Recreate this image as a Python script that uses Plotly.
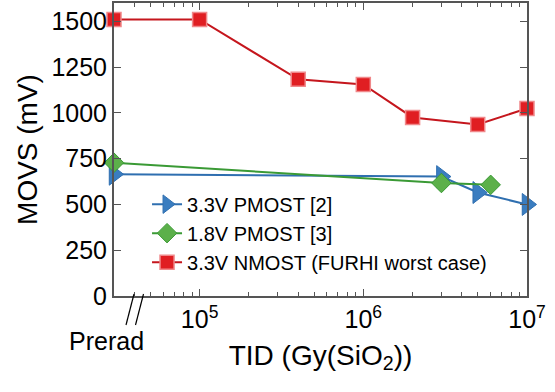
import plotly.graph_objects as go

# Data (x in Gy(SiO2); the first point of each series is "Prerad", placed at 3e4)
prerad_x = 3e4
pmos33_x = [prerad_x, 3e6, 5e6, 1e7]
pmos33_y = [665, 652, 565, 500]
pmos18_x = [prerad_x, 3e6, 6e6]
pmos18_y = [728, 617, 607]
nmos33_x = [prerad_x, 1e5, 4e5, 1e6, 2e6, 5e6, 1e7]
nmos33_y = [1510, 1510, 1183, 1155, 975, 937, 1024]

names = ["3.3V PMOST [2]", "1.8V PMOST [3]", "3.3V NMOST (FURHI worst case)"]
y_ticks = [0, 250, 500, 750, 1000, 1250, 1500]
x_ticks = [1e5, 1e6, 1e7]
x_ticktext = ["10<sup>5</sup>", "10<sup>6</sup>", "10<sup>7</sup>"]

FONT = "Liberation Sans"
fig = go.Figure()
fig.add_trace(go.Scatter(
    x=pmos33_x, y=pmos33_y, name=names[0], mode="lines+markers", cliponaxis=False,
    line=dict(color="#2f6fb0", width=2),
    marker=dict(symbol="triangle-right", size=19, color="#3a7dc0",
                line=dict(color="#2f6fb0", width=1))))
fig.add_trace(go.Scatter(
    x=pmos18_x, y=pmos18_y, name=names[1], mode="lines+markers", cliponaxis=False,
    line=dict(color="#3a9a35", width=2),
    marker=dict(symbol="diamond", size=15, color="#5cb04a",
                line=dict(color="#3a9a35", width=1))))
fig.add_trace(go.Scatter(
    x=nmos33_x, y=nmos33_y, name=names[2], mode="lines+markers", cliponaxis=False,
    line=dict(color="#c5161d", width=2),
    marker=dict(symbol="square", size=14, color="#e01e22",
                line=dict(color="#f0888a", width=1.5))))

L, R, T, B = 114, 28, 3, 96
W, H = 555, 392
fig.update_layout(
    width=W, height=H,
    margin=dict(l=L, r=R, t=T, b=B, autoexpand=False),
    paper_bgcolor="white", plot_bgcolor="white",
    font=dict(family=FONT, color="black"),
    showlegend=True,
    legend=dict(x=0.08, y=0.38, xanchor="left", yanchor="top",
                bgcolor="rgba(0,0,0,0)", font=dict(size=20, family=FONT),
                tracegroupgap=0, itemwidth=30),
    xaxis=dict(type="log", range=[4.477, 7.0], tickvals=x_ticks, ticktext=x_ticktext,
               automargin=False,
               ticks="inside", ticklen=7, tickcolor="#555",
               minor=dict(ticks="inside", ticklen=4, tickcolor="#555", dtick="D1", showgrid=False),
               showline=True, linecolor="#555", linewidth=2, mirror="ticks",
               showgrid=False, zeroline=False,
               tickfont=dict(size=25, family=FONT),
               title=dict(text="TID (Gy(SiO<sub>2</sub>))", font=dict(size=28, family=FONT), standoff=13)),
    yaxis=dict(range=[0, 1600], tickvals=y_ticks, automargin=False,
               ticks="inside", ticklen=7, tickcolor="#555",
               showline=True, linecolor="#555", linewidth=2, mirror="ticks",
               showgrid=False, zeroline=False,
               tickfont=dict(size=25, family=FONT),
               title=dict(text="MOVS (mV)", font=dict(size=28, family=FONT), standoff=6)),
)

pw = W - L - R
ph = H - T - B
def px(xp):
    return (xp - L) / pw
def py(yp):
    return (H - B - yp) / ph

# axis break marks and Prerad label
for x0 in (126, 135.5):
    fig.add_shape(type="line", xref="paper", yref="paper",
                  x0=px(x0), y0=py(325), x1=px(x0 + 8), y1=py(294),
                  line=dict(color="black", width=1.2))
fig.add_annotation(text="Prerad", xref="paper", yref="paper",
                   x=px(106), y=py(341), xanchor="center", yanchor="middle",
                   showarrow=False,
                   font=dict(size=25, family=FONT, color="black"))

fig.write_html("out.html", config={"displayModeBar": False},
               post_script="document.body.style.margin='0';document.body.style.overflow='hidden';")
